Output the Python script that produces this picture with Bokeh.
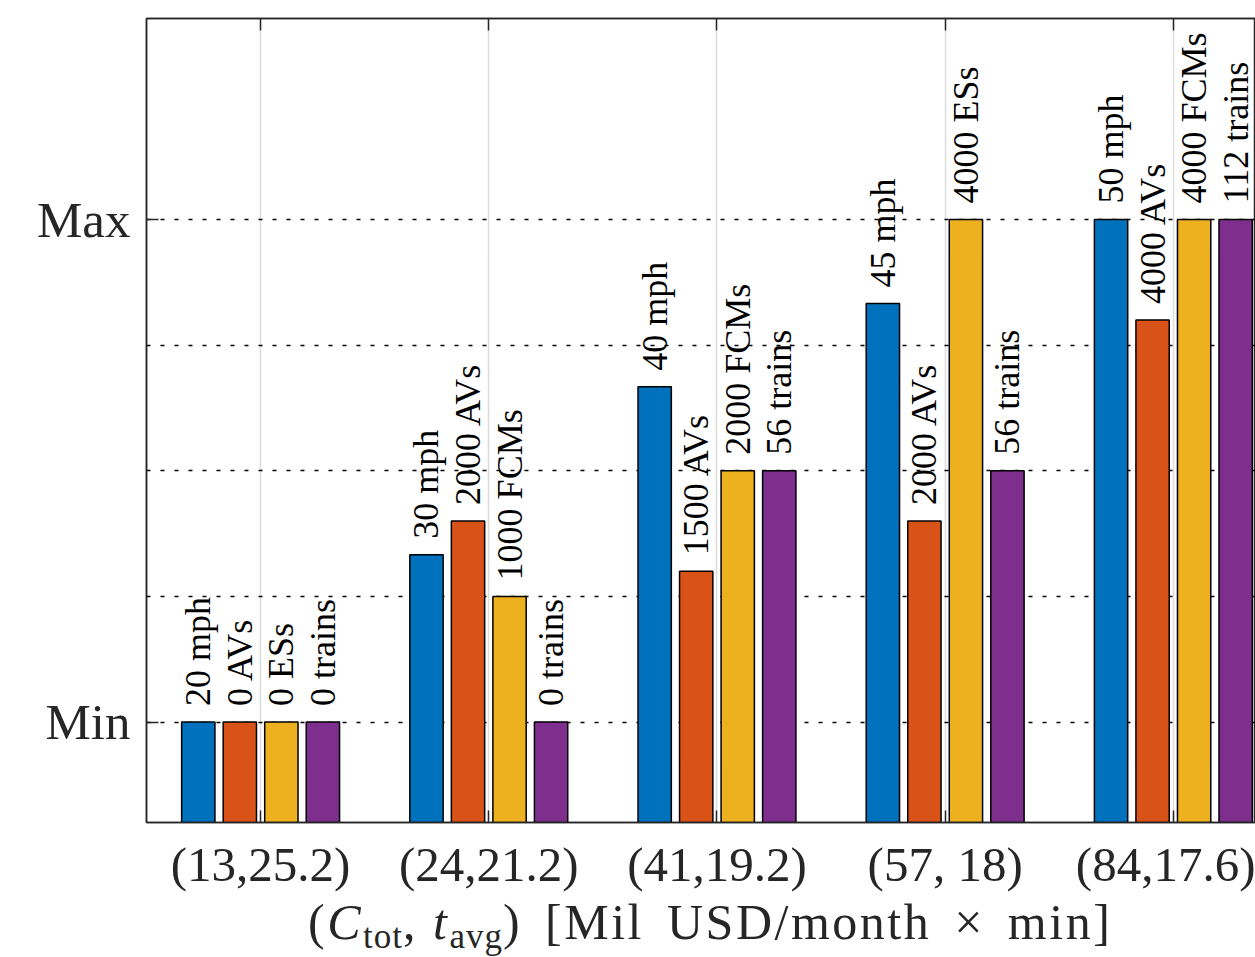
import numpy as np
from bokeh.plotting import figure
from bokeh.models import FixedTicker, LinearAxis, ColumnDataSource, Range1d, Div
from bokeh.layouts import column
from bokeh.embed import file_html
from bokeh.resources import INLINE
from bokeh.core.properties import value

# ---------------- data ----------------
groups = ["(13,25.2)", "(24,21.2)", "(41,19.2)", "(57, 18)", "(84,17.6)"]
speed = [0.0, 0.333, 0.667, 0.833, 1.0]
speed_txt = ["20 mph", "30 mph", "40 mph", "45 mph", "50 mph"]
avs = [0.0, 0.4, 0.3, 0.4, 0.8]
avs_txt = ["0 AVs", "2000 AVs", "1500 AVs", "2000 AVs", "4000 AVs"]
storage = [0.0, 0.25, 0.5, 1.0, 1.0]
storage_txt = ["0 ESs", "1000 FCMs", "2000 FCMs", "4000 ESs", "4000 FCMs"]
trains = [0.0, 0.0, 0.5, 0.5, 1.0]
trains_txt = ["0 trains", "0 trains", "56 trains", "56 trains", "112 trains"]
y_ticks = [0, 1]
y_tick_labels = ["Min", "Max"]
grid_levels = [0, 0.25, 0.5, 0.75, 1]

colors = ["#0072BD", "#D95319", "#EDB120", "#7E2F8E"]
FONT = "Liberation Serif"
TXT = "#262626"

p = figure(width=1255, height=897,
           x_range=Range1d(0.5, 5.36), y_range=Range1d(-0.2, 1.4),
           output_backend="svg", toolbar_location=None,
           min_border_left=146, min_border_right=0,
           min_border_top=18, min_border_bottom=75)
p.background_fill_color = "white"
p.border_fill_color = "white"

x = np.arange(1, len(groups) + 1)
offsets = [-0.273, -0.091, 0.091, 0.273]
series = [(speed, speed_txt), (avs, avs_txt), (storage, storage_txt), (trains, trains_txt)]
for (vals, txts), col, off in zip(series, colors, offsets):
    src = ColumnDataSource(dict(x=x + off, top=vals, txt=txts))
    p.vbar(x="x", top="top", bottom=-0.2, width=0.146, fill_color=col,
           line_color="black", line_width=1.5, source=src)
    p.text(x="x", y="top", text="txt", angle=np.pi / 2, text_align="left",
           text_baseline="middle", y_offset=-16, text_font=value(FONT),
           text_font_size="36px", text_color="black", source=src)

# axes
p.xaxis.ticker = FixedTicker(ticks=[int(v) for v in x])
p.xaxis.major_label_overrides = {int(v): g for v, g in zip(x, groups)}
p.yaxis.ticker = FixedTicker(ticks=y_ticks)
p.yaxis.major_label_overrides = {t: l for t, l in zip(y_ticks, y_tick_labels)}
for ax in (p.xaxis, p.yaxis):
    ax.major_label_text_font = FONT
    ax.major_label_text_color = TXT
    ax.major_tick_in = 12
    ax.major_tick_out = 0
    ax.minor_tick_line_color = None
    ax.axis_line_color = TXT
    ax.axis_line_width = 1.5
    ax.major_tick_line_color = TXT
    ax.major_tick_line_width = 1.5
p.xaxis.major_label_text_font_size = "49px"
p.yaxis.major_label_text_font_size = "51px"
p.xaxis.major_label_standoff = 14
p.yaxis.major_label_standoff = 16

top_ax = LinearAxis(ticker=FixedTicker(ticks=[int(v) for v in x]),
                    major_label_overrides={int(v): "" for v in x},
                    major_label_text_font_size="0px", major_label_standoff=0,
                    major_tick_in=12, major_tick_out=0, minor_tick_line_color=None,
                    axis_line_color=TXT, axis_line_width=1.5,
                    major_tick_line_color=TXT, major_tick_line_width=1.5)
p.add_layout(top_ax, "above")

# grids
p.xgrid.ticker = FixedTicker(ticks=[int(v) for v in x])
p.xgrid.grid_line_color = "#dcdcdc"
p.xgrid.grid_line_width = 1.5
p.ygrid.ticker = FixedTicker(ticks=grid_levels)
p.ygrid.grid_line_color = "black"
p.ygrid.grid_line_dash = "4 10"
p.ygrid.grid_line_width = 1.5

p.outline_line_color = TXT
p.outline_line_width = 1.5

# x-axis title with subscripts
sub = "font-size:35px; vertical-align:-9px; letter-spacing:1px;"
title_html = (
    f'<div style="font-family:\'{FONT}\'; font-size:50px; line-height:50px; color:{TXT}; '
    f'padding-left:308px; white-space:nowrap; letter-spacing:2.5px; word-spacing:8px;">'
    f'(<i>C</i><span style="{sub}">tot</span>,<span style="word-spacing:0px"> </span>'
    f'<i>t</i><span style="{sub}">avg</span>) '
    f'[Mil USD/month \u00d7 min]</div>'
)
title = Div(text=title_html, width=1255, height=60, margin=(0, 0, 0, 0))

layout = column(p, title, spacing=0)
open("out.html", "w").write(file_html(layout, INLINE))
